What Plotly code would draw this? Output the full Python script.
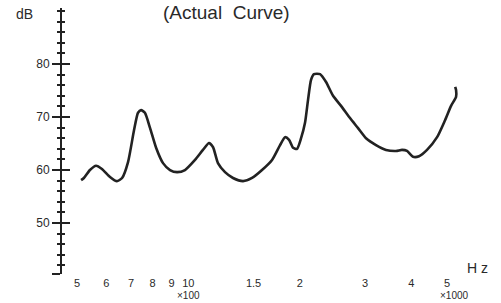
import plotly.graph_objects as go

# Frequency (Hz) and level (dB)
freq_hz = [513, 522, 542, 563, 584, 614, 641, 662, 687, 713, 731, 745, 763, 788, 818,
           854, 892, 932, 979, 1042, 1095, 1137, 1166, 1202, 1256, 1320, 1405, 1486,
           1581, 1683, 1769, 1825, 1871, 1918, 1966, 2016, 2066, 2105, 2145, 2185,
           2269, 2355, 2460, 2585, 2734, 2874, 3020, 3213, 3420, 3640, 3778, 3898,
           4046, 4200, 4414, 4699, 4938, 5126, 5288, 5288, 5260]
level_db = [58.1, 58.5, 60.0, 60.8, 60.2, 58.7, 57.9, 58.5, 61.5, 67.5, 70.8, 71.3, 70.8,
            67.9, 64.2, 61.3, 60.0, 59.6, 60.0, 61.9, 63.8, 65.1, 64.3, 61.3, 59.6, 58.5,
            57.9, 58.5, 60.0, 61.9, 64.7, 66.2, 65.7, 64.2, 64.0, 66.0, 68.9, 73.2, 77.0,
            78.1, 78.1, 76.6, 74.0, 72.1, 69.8, 67.9, 66.0, 64.7, 63.8, 63.6, 63.8, 63.6,
            62.5, 62.6, 63.8, 66.2, 69.4, 72.1, 73.8, 75.1, 75.7]

x_tick_vals = [500, 600, 700, 800, 900, 1000, 1500, 2000, 3000, 4000, 5000]
x_tick_text = ["5", "6", "7", "8", "9", "10", "1.5", "2", "3", "4", "5"]
y_tick_vals = [50, 60, 70, 80]
y_tick_text = ["50", "60", "70", "80"]

FONT = "Liberation Sans"
INK = "#222222"
TXT = "#2a2a2a"

fig = go.Figure()
fig.add_trace(go.Scatter(x=freq_hz, y=level_db, mode="lines",
                         line=dict(color=INK, width=2.6, shape="spline", smoothing=0.6),
                         hoverinfo="skip", showlegend=False))

y_lo, y_hi = 40.38, 90.57

fig.update_layout(
    width=501, height=303,
    margin=dict(l=62, r=11, t=8, b=29),
    paper_bgcolor="white", plot_bgcolor="white",
    showlegend=False,
    xaxis=dict(type="log", range=[2.6585, 3.815], showgrid=False, zeroline=False,
               showline=False, ticks="", tickmode="array", tickvals=x_tick_vals,
               ticktext=x_tick_text, tickfont=dict(family=FONT, size=11, color=TXT),
               ticklabelstandoff=1),
    yaxis=dict(range=[y_lo, y_hi], showgrid=False, zeroline=False, showline=True,
               linecolor=INK, linewidth=2, ticks="outside", ticklen=8, tickwidth=1.5,
               tickcolor=INK, tickmode="array", tickvals=[40.45] + y_tick_vals,
               ticktext=[""] + y_tick_text,
               tickfont=dict(family=FONT, size=12, color=TXT),
               minor=dict(tick0=0, dtick=2, ticks="outside", ticklen=3,
                          tickwidth=1.5, tickcolor=INK)),
    yaxis2=dict(range=[y_lo, y_hi], overlaying="y", anchor="x", side="left",
                showgrid=False, zeroline=False, showline=False, showticklabels=False,
                ticks="inside", ticklen=8, tickwidth=1.5, tickcolor=INK,
                tickmode="array", tickvals=[40.45, 50, 60, 70, 80, 90.45],
                minor=dict(tick0=0, dtick=2, ticks="inside", ticklen=3,
                           tickwidth=1.5, tickcolor=INK)),
)

fig.add_trace(go.Scatter(x=[None], y=[None], yaxis="y2", showlegend=False,
                         hoverinfo="skip"))

fig.add_annotation(text="(Actual  Curve)", xref="paper", yref="paper",
                   x=(226 - 62) / 428, y=1.0, yanchor="top", xanchor="center",
                   yshift=8, showarrow=False,
                   font=dict(family=FONT, size=19, color=TXT))
fig.add_annotation(text="dB", xref="paper", yref="paper", x=-0.087, y=1.0,
                   xanchor="center", yanchor="top", yshift=4, showarrow=False,
                   font=dict(family=FONT, size=14, color=TXT))
fig.add_annotation(text="×100", xref="x", yref="paper", x=3.0, y=0,
                   xanchor="center", yanchor="top", yshift=-14, showarrow=False,
                   font=dict(family=FONT, size=10, color=TXT))
fig.add_annotation(text="×1000", xref="x", yref="paper", x=3.72, y=0,
                   xanchor="center", yanchor="top", yshift=-14, showarrow=False,
                   font=dict(family=FONT, size=10, color=TXT))
fig.add_annotation(text="H z", xref="paper", yref="paper", x=1.0, y=0,
                   xanchor="right", yanchor="bottom", yshift=-4, showarrow=False,
                   font=dict(family=FONT, size=14, color=TXT))

fig.write_html("out.html", config={"displayModeBar": False},
               post_script="document.body.style.margin='0';")
